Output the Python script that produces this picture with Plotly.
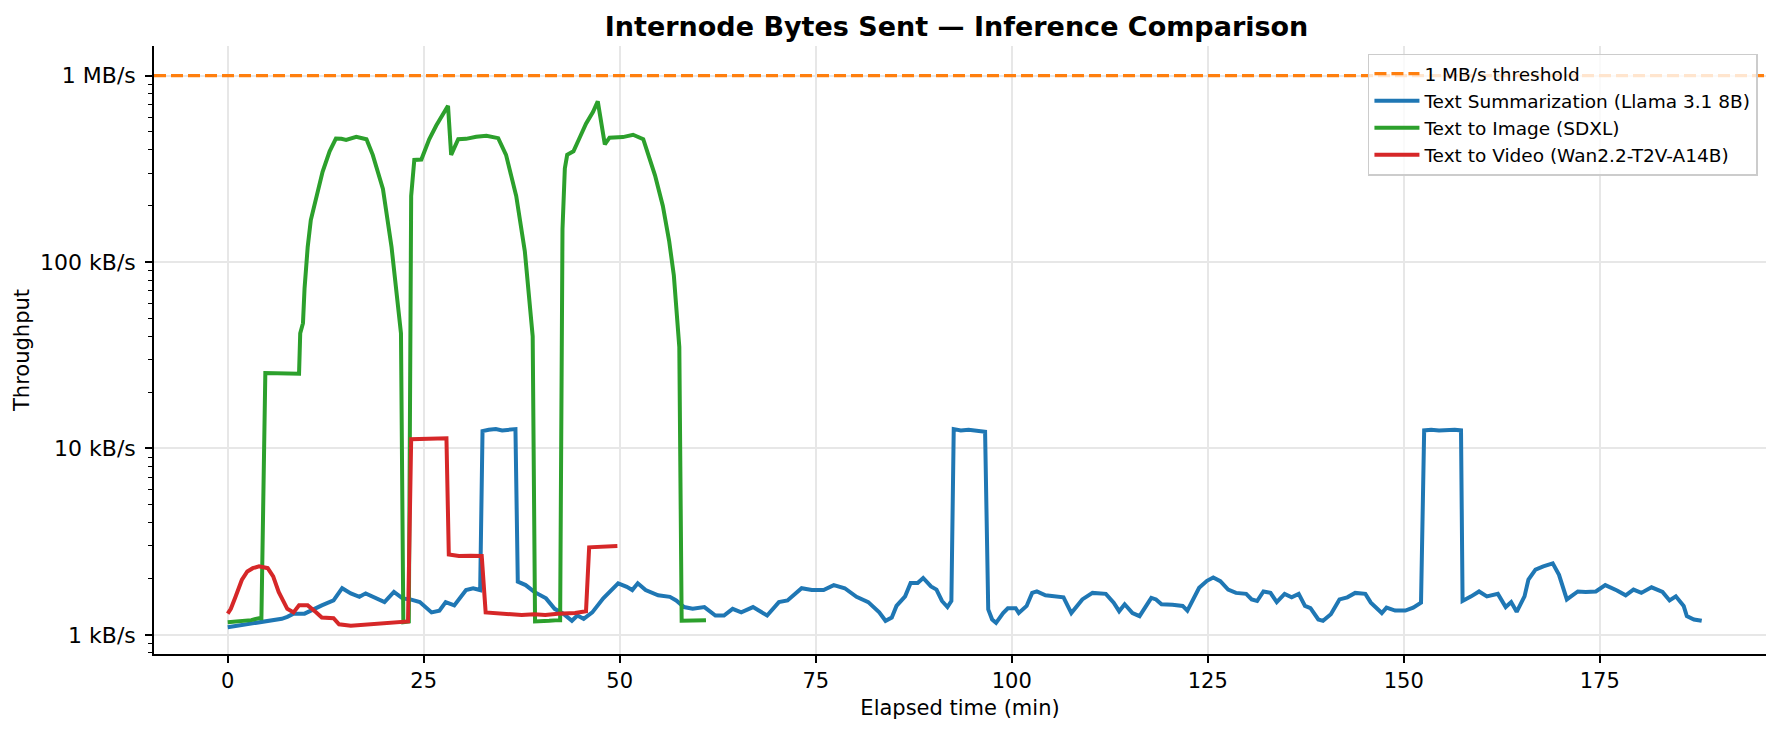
import plotly.graph_objects as go

# elapsed minutes / throughput in kB/s
summ_t = [0, 1.2, 2.5, 3.5, 4.7, 5.8, 6.9, 7.6, 8.4, 9.8, 11.0, 12.0, 13.5, 14.6, 15.7, 16.8, 17.6, 18.6,
          20.0, 21.2, 22.3, 23.3, 24.5, 26.0, 27.0, 27.8, 28.9, 30.4, 31.3, 32.2, 32.5, 33.3, 34.2, 35.0,
          35.8, 36.7, 37.0, 38.0, 39.1, 40.6, 41.7, 42.8, 43.9, 44.6, 45.4, 46.5, 47.9, 49.8, 50.9, 51.6,
          52.3, 53.3, 54.9, 56.4, 57.2, 58.2, 59.3, 60.8, 62.2, 63.3, 64.4, 65.5, 67.0, 68.8, 70.3, 71.4,
          73.2, 74.5, 76.0, 77.3, 78.7, 80.2, 81.7, 83.1, 83.9, 84.7, 85.3, 86.4, 87.1, 88.0, 88.7, 89.7,
          90.4, 91.1, 91.8, 92.3, 92.6, 93.5, 94.5, 95.5, 96.6, 97.0, 97.5, 98.0, 98.9, 99.5, 100.5, 100.9,
          101.9, 102.6, 103.2, 104.3, 105.3, 106.6, 107.6, 109.0, 110.3, 112.0, 113.0, 113.7, 114.4, 115.4,
          116.3, 117.1, 117.8, 118.4, 119.1, 120.5, 121.8, 122.4, 123.2, 123.9, 124.9, 125.7, 126.6, 127.6,
          128.6, 129.9, 130.6, 131.3, 132.1, 133.0, 133.8, 134.8, 135.7, 136.6, 137.4, 138.1, 139.1, 139.7,
          140.7, 141.8, 142.8, 143.8, 145.1, 145.8, 147.2, 147.8, 148.9, 150.2, 151.2, 152.2, 152.6, 153.5,
          154.5, 155.5, 156.5, 157.3, 157.5, 158.6, 159.6, 160.6, 162.0, 163.0, 163.7, 164.4, 165.4, 165.9,
          166.8, 167.8, 169.0, 169.8, 170.8, 172.2, 173.2, 174.5, 175.7, 177.2, 178.3, 179.3, 180.3, 181.6,
          183.0, 183.9, 184.7, 185.7, 186.1, 187.0, 188.0]
summ_v = [1.10, 1.12, 1.14, 1.16, 1.19, 1.21, 1.22, 1.25, 1.30, 1.30, 1.38, 1.44, 1.53, 1.78, 1.67, 1.60, 1.67, 1.60,
          1.50, 1.70, 1.57, 1.55, 1.50, 1.32, 1.35, 1.50, 1.44, 1.74, 1.78, 1.74, 12.4, 12.6, 12.7, 12.5,
          12.6, 12.7, 1.93, 1.85, 1.70, 1.57, 1.38, 1.30, 1.19, 1.27, 1.22, 1.32, 1.57, 1.89, 1.81, 1.74,
          1.89, 1.74, 1.63, 1.60, 1.53, 1.41, 1.38, 1.41, 1.27, 1.27, 1.38, 1.32, 1.41, 1.27, 1.50, 1.53,
          1.78, 1.74, 1.74, 1.85, 1.78, 1.60, 1.50, 1.32, 1.19, 1.24, 1.43, 1.61, 1.90, 1.90, 2.02, 1.82,
          1.75, 1.52, 1.41, 1.52, 12.7, 12.5, 12.6, 12.4, 12.3, 1.37, 1.21, 1.16, 1.31, 1.39, 1.39, 1.31,
          1.43, 1.68, 1.71, 1.63, 1.61, 1.59, 1.31, 1.55, 1.68, 1.66, 1.49, 1.34, 1.46, 1.31,
          1.26, 1.43, 1.58, 1.55, 1.46, 1.45, 1.43, 1.35, 1.55, 1.79, 1.95, 2.03, 1.94, 1.75,
          1.68, 1.66, 1.55, 1.52, 1.71, 1.68, 1.50, 1.66, 1.59, 1.66, 1.43, 1.39, 1.21, 1.19,
          1.29, 1.55, 1.59, 1.68, 1.66, 1.49, 1.31, 1.40, 1.35, 1.35, 1.40, 1.49, 12.5, 12.6,
          12.5, 12.6, 12.6, 12.5, 1.52, 1.61, 1.71, 1.61, 1.66, 1.41, 1.50, 1.33, 1.61, 1.98,
          2.24, 2.33, 2.42, 2.10, 1.55, 1.71, 1.70, 1.71, 1.85, 1.73, 1.63, 1.75, 1.68, 1.80,
          1.70, 1.53, 1.61, 1.43, 1.26, 1.21, 1.19]

image_t = [0, 1, 2, 3, 4, 4.3, 4.8, 6, 7.5, 9.1, 9.25, 9.6, 9.8, 10.2, 10.6, 11.3, 12.1, 13.0, 13.8, 14.5,
           15.1, 16.4, 17.2, 17.7, 18.5, 19.8, 20.9, 21.5, 22.1, 22.4, 22.8, 23.1, 23.4, 23.8, 24.7, 24.9,
           25.7, 26.6, 27.4, 28.1, 28.5, 29.4, 30.4, 31.7, 33.0, 34.5, 35.5, 36.8, 37.9, 38.7, 38.9, 39.2,
           40.0, 41.0, 42.2, 42.4, 42.7, 43.0, 43.3, 44.1, 44.9, 45.7, 46.6, 47.2, 48.1, 48.7, 50.4, 51.7,
           53.0, 54.5, 55.5, 56.3, 56.9, 57.6, 57.9, 58.5, 59.5, 60.5, 61.0]
image_v = [1.17, 1.18, 1.19, 1.20, 1.23, 1.23, 25.4, 25.3, 25.2, 25.2, 41.5, 47, 72, 120, 168, 226, 305, 393, 460, 458,
           452, 470, 462, 456, 376, 247, 120, 72, 41.5, 1.17, 1.17, 1.18, 226, 353, 355, 376,
           456, 540, 620, 689, 376, 456, 458, 470, 476, 462, 376, 226, 114, 51, 40, 1.18,
           1.18, 1.19, 1.20, 1.20, 150, 318, 376, 393, 466, 552, 640, 728, 428, 465, 468, 482,
           456, 292, 200, 130, 85, 35, 1.19, 1.19, 1.20, 1.19, 1.20]

video_t = [0, 0.4, 1.0, 1.8, 2.5, 3.2, 4.0, 5.1, 5.8, 6.5, 7.6, 8.4, 9.1, 10.2, 11.3, 12.0, 13.5, 14.2, 15.7,
           17.0, 18.6, 20.0, 21.6, 23.0, 23.4, 25.0, 26.5, 27.9, 28.2, 29.5, 31.0, 32.4, 32.9, 34.8, 36.2,
           37.5, 39.1, 40.5, 42.1, 44.3, 45.7, 46.1, 47.0, 48.5, 49.7]
video_v = [1.30, 1.38, 1.60, 1.97, 2.19, 2.28, 2.33, 2.28, 2.06, 1.70, 1.38, 1.32, 1.44, 1.44, 1.32, 1.24, 1.23, 1.14, 1.12,
           1.13, 1.14, 1.15, 1.17, 1.18, 11.2, 11.3, 11.3, 11.35, 2.70, 2.65, 2.66, 2.65, 1.32, 1.31, 1.29,
           1.28, 1.29, 1.28, 1.30, 1.31, 1.34, 2.95, 2.96, 2.98, 3.00]

threshold = 1000  # kB/s
y_ticks = [1, 10, 100, 1000]
y_labels = ["1 kB/s", "10 kB/s", "100 kB/s", "1 MB/s"]
x_ticks = [0, 25, 50, 75, 100, 125, 150, 175]

FONT = "DejaVu Sans"
DASH = "12px,5px"

fig = go.Figure()

# legend entry for the threshold line (the line itself is an hline)
fig.add_trace(go.Scatter(x=[None], y=[None], mode="lines", name="1 MB/s threshold",
                         line=dict(color="#ff7f0e", width=3.2, dash=DASH)))
fig.add_trace(go.Scatter(x=summ_t, y=summ_v, mode="lines", name="Text Summarization (Llama 3.1 8B)",
                         line=dict(color="#1f77b4", width=4)))
fig.add_trace(go.Scatter(x=image_t, y=image_v, mode="lines", name="Text to Image (SDXL)",
                         line=dict(color="#2ca02c", width=4)))
fig.add_trace(go.Scatter(x=video_t, y=video_v, mode="lines", name="Text to Video (Wan2.2-T2V-A14B)",
                         line=dict(color="#d62728", width=4)))

fig.add_hline(y=threshold, line=dict(color="#ff7f0e", width=3.2, dash=DASH), layer="above")

minor_vals = [m * 10 ** k for k in range(-1, 4) for m in range(2, 10) if 0.78 < m * 10 ** k < 1400]

fig.update_layout(
    width=1783, height=732,
    paper_bgcolor="white", plot_bgcolor="white",
    margin=dict(l=138, r=25, t=38, b=86),
    font=dict(family=FONT, size=20, color="black"),
    title=dict(text="<b>Internode Bytes Sent — Inference Comparison</b>", x=0.532, xanchor="center",
               y=0.975, yanchor="middle", font=dict(size=27, family=FONT)),
    showlegend=True,
    legend=dict(x=0.995, xanchor="right", y=0.9875, yanchor="top", itemwidth=45,
                bgcolor="rgba(255,255,255,0.8)", bordercolor="#cccccc", borderwidth=1.5,
                font=dict(size=18.5, family=FONT), tracegroupgap=0),
    xaxis=dict(range=[-9.4, 196.2], tickvals=x_ticks, ticks="outside", ticklen=7, tickwidth=1.6,
               tickcolor="black", showline=True, linecolor="black", linewidth=1.6, zeroline=False,
               showgrid=True, gridcolor="#e7e7e7", gridwidth=1.6, tickfont=dict(size=21),
               title=dict(text="Elapsed time (min)", font=dict(size=21), standoff=8)),
    yaxis=dict(type="log", range=[-0.1025, 3.159], tickvals=y_ticks, ticktext=y_labels,
               ticks="outside", ticklen=7, tickwidth=1.6, tickcolor="black", tickfont=dict(size=22),
               ticklabelstandoff=5,
               showline=True, linecolor="black", linewidth=1.6, zeroline=False,
               showgrid=True, gridcolor="#e7e7e7", gridwidth=1.6,
               minor=dict(tickmode="array", tickvals=minor_vals, ticks="outside", ticklen=4,
                          tickwidth=1.2, tickcolor="black", showgrid=False),
               title=dict(text="Throughput", font=dict(size=21), standoff=5)),
)

fig.write_html("out.html")
